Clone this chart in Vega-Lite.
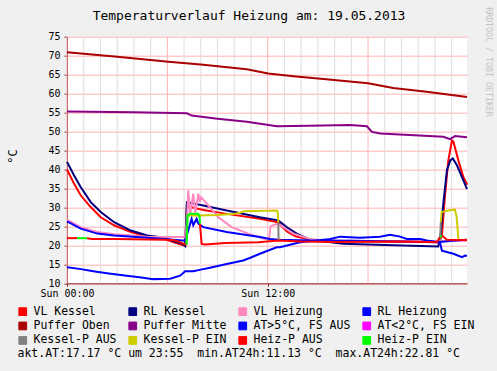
{
"$schema": "https://vega.github.io/schema/vega-lite/v6.json",
"width": 400, "height": 246.6,
"autosize": {"type": "none"},
"padding": {"left": 67, "top": 36.7, "right": 30, "bottom": 88},
"background": "#f0f0f0",
"title": {"text": "Temperaturverlauf Heizung am: 19.05.2013", "font": "DejaVu Sans Mono", "fontSize": 13, "fontWeight": "normal", "color": "black", "anchor": "middle", "frame": "group", "dx": -18, "dy": 21, "offset": 5},
"config": {"view": {"fill": "white", "stroke": null}, "font": "DejaVu Sans Mono", "axis": {"labelFont": "DejaVu Sans Mono", "titleFont": "DejaVu Sans Mono", "labelColor": "black", "titleColor": "black", "titleFontWeight": "normal"}},
"layer": [
{
"data": {"values": [
{"t":"2013-05-19T00:00","major":true},{"t":"2013-05-19T01:00","major":false},{"t":"2013-05-19T02:00","major":false},{"t":"2013-05-19T03:00","major":false},
{"t":"2013-05-19T04:00","major":false},{"t":"2013-05-19T05:00","major":false},{"t":"2013-05-19T06:00","major":true},{"t":"2013-05-19T07:00","major":false},
{"t":"2013-05-19T08:00","major":false},{"t":"2013-05-19T09:00","major":false},{"t":"2013-05-19T10:00","major":false},{"t":"2013-05-19T11:00","major":false},
{"t":"2013-05-19T12:00","major":true},{"t":"2013-05-19T13:00","major":false},{"t":"2013-05-19T14:00","major":false},{"t":"2013-05-19T15:00","major":false},
{"t":"2013-05-19T16:00","major":false},{"t":"2013-05-19T17:00","major":false},{"t":"2013-05-19T18:00","major":true},{"t":"2013-05-19T19:00","major":false},
{"t":"2013-05-19T20:00","major":false},{"t":"2013-05-19T21:00","major":false},{"t":"2013-05-19T22:00","major":false},{"t":"2013-05-19T23:00","major":false}
]},
"mark": {"type": "rule", "strokeWidth": 1},
"encoding": {
"x": {"field": "t", "type": "temporal"},
"color": {"condition": {"test": "datum.major", "value": "#ffb4b4"}, "value": "#dddddd"}
}
},
{
"data": {"values": [
{"s":"VL Kessel","g":1,"t":"2013-05-19T00:00","v":40.0},
{"s":"VL Kessel","g":1,"t":"2013-05-19T00:25","v":36.3},
{"s":"VL Kessel","g":1,"t":"2013-05-19T00:49","v":33.2},
{"s":"VL Kessel","g":1,"t":"2013-05-19T01:25","v":30.1},
{"s":"VL Kessel","g":1,"t":"2013-05-19T02:01","v":27.4},
{"s":"VL Kessel","g":1,"t":"2013-05-19T02:49","v":25.3},
{"s":"VL Kessel","g":1,"t":"2013-05-19T03:49","v":23.5},
{"s":"VL Kessel","g":1,"t":"2013-05-19T04:48","v":22.3},
{"s":"VL Kessel","g":1,"t":"2013-05-19T05:48","v":21.7},
{"s":"VL Kessel","g":1,"t":"2013-05-19T06:24","v":20.8},
{"s":"VL Kessel","g":1,"t":"2013-05-19T06:54","v":20.1},
{"s":"VL Kessel","g":1,"t":"2013-05-19T07:04","v":20.0},
{"s":"VL Kessel","g":1,"t":"2013-05-19T07:10","v":30.4},
{"s":"VL Kessel","g":1,"t":"2013-05-19T07:15","v":30.2},
{"s":"VL Kessel","g":1,"t":"2013-05-19T08:10","v":29.3},
{"s":"VL Kessel","g":1,"t":"2013-05-19T09:33","v":28.3},
{"s":"VL Kessel","g":1,"t":"2013-05-19T11:32","v":27.0},
{"s":"VL Kessel","g":1,"t":"2013-05-19T12:38","v":26.1},
{"s":"VL Kessel","g":1,"t":"2013-05-19T12:50","v":25.0},
{"s":"VL Kessel","g":1,"t":"2013-05-19T13:10","v":23.6},
{"s":"VL Kessel","g":1,"t":"2013-05-19T13:40","v":22.4},
{"s":"VL Kessel","g":1,"t":"2013-05-19T14:30","v":21.5},
{"s":"VL Kessel","g":1,"t":"2013-05-19T16:00","v":21.2},
{"s":"VL Kessel","g":1,"t":"2013-05-19T18:00","v":21.1},
{"s":"VL Kessel","g":1,"t":"2013-05-19T20:00","v":21.0},
{"s":"VL Kessel","g":1,"t":"2013-05-19T22:16","v":20.9},
{"s":"VL Kessel","g":1,"t":"2013-05-19T22:25","v":22.6},
{"s":"VL Kessel","g":1,"t":"2013-05-19T22:36","v":33.0},
{"s":"VL Kessel","g":1,"t":"2013-05-19T22:48","v":42.4},
{"s":"VL Kessel","g":1,"t":"2013-05-19T23:01","v":47.6},
{"s":"VL Kessel","g":1,"t":"2013-05-19T23:06","v":47.4},
{"s":"VL Kessel","g":1,"t":"2013-05-19T23:24","v":42.4},
{"s":"VL Kessel","g":1,"t":"2013-05-19T23:42","v":38.0},
{"s":"VL Kessel","g":1,"t":"2013-05-19T23:54","v":36.3},
{"s":"VL Kessel","g":1,"t":"2013-05-19T23:55","v":36.0},
{"s":"RL Kessel","g":1,"t":"2013-05-19T00:00","v":42.0},
{"s":"RL Kessel","g":1,"t":"2013-05-19T00:25","v":38.5},
{"s":"RL Kessel","g":1,"t":"2013-05-19T00:49","v":35.4},
{"s":"RL Kessel","g":1,"t":"2013-05-19T01:25","v":31.4},
{"s":"RL Kessel","g":1,"t":"2013-05-19T02:01","v":28.8},
{"s":"RL Kessel","g":1,"t":"2013-05-19T02:49","v":26.1},
{"s":"RL Kessel","g":1,"t":"2013-05-19T03:49","v":23.9},
{"s":"RL Kessel","g":1,"t":"2013-05-19T04:48","v":22.6},
{"s":"RL Kessel","g":1,"t":"2013-05-19T05:48","v":22.0},
{"s":"RL Kessel","g":1,"t":"2013-05-19T06:24","v":21.1},
{"s":"RL Kessel","g":1,"t":"2013-05-19T06:54","v":20.4},
{"s":"RL Kessel","g":1,"t":"2013-05-19T07:04","v":19.8},
{"s":"RL Kessel","g":1,"t":"2013-05-19T07:10","v":31.4},
{"s":"RL Kessel","g":1,"t":"2013-05-19T08:09","v":30.5},
{"s":"RL Kessel","g":1,"t":"2013-05-19T09:33","v":29.2},
{"s":"RL Kessel","g":1,"t":"2013-05-19T11:32","v":27.4},
{"s":"RL Kessel","g":1,"t":"2013-05-19T12:38","v":26.6},
{"s":"RL Kessel","g":1,"t":"2013-05-19T13:08","v":24.8},
{"s":"RL Kessel","g":1,"t":"2013-05-19T13:44","v":23.1},
{"s":"RL Kessel","g":1,"t":"2013-05-19T14:32","v":21.5},
{"s":"RL Kessel","g":1,"t":"2013-05-19T16:31","v":20.4},
{"s":"RL Kessel","g":1,"t":"2013-05-19T19:31","v":20.0},
{"s":"RL Kessel","g":1,"t":"2013-05-19T22:12","v":19.7},
{"s":"RL Kessel","g":1,"t":"2013-05-19T22:20","v":22.6},
{"s":"RL Kessel","g":1,"t":"2013-05-19T22:30","v":31.0},
{"s":"RL Kessel","g":1,"t":"2013-05-19T22:43","v":39.8},
{"s":"RL Kessel","g":1,"t":"2013-05-19T22:55","v":42.4},
{"s":"RL Kessel","g":1,"t":"2013-05-19T23:04","v":42.9},
{"s":"RL Kessel","g":1,"t":"2013-05-19T23:19","v":41.1},
{"s":"RL Kessel","g":1,"t":"2013-05-19T23:42","v":37.1},
{"s":"RL Kessel","g":1,"t":"2013-05-19T23:55","v":34.8},
{"s":"VL Heizung","g":1,"t":"2013-05-19T00:00","v":26.8},
{"s":"VL Heizung","g":1,"t":"2013-05-19T00:49","v":24.8},
{"s":"VL Heizung","g":1,"t":"2013-05-19T01:49","v":23.5},
{"s":"VL Heizung","g":1,"t":"2013-05-19T02:49","v":22.9},
{"s":"VL Heizung","g":1,"t":"2013-05-19T04:48","v":22.3},
{"s":"VL Heizung","g":1,"t":"2013-05-19T07:04","v":22.2},
{"s":"VL Heizung","g":1,"t":"2013-05-19T07:10","v":26.0},
{"s":"VL Heizung","g":1,"t":"2013-05-19T07:15","v":34.5},
{"s":"VL Heizung","g":1,"t":"2013-05-19T07:22","v":28.3},
{"s":"VL Heizung","g":1,"t":"2013-05-19T07:33","v":33.6},
{"s":"VL Heizung","g":1,"t":"2013-05-19T07:40","v":28.5},
{"s":"VL Heizung","g":1,"t":"2013-05-19T07:51","v":33.6},
{"s":"VL Heizung","g":1,"t":"2013-05-19T07:56","v":31.5},
{"s":"VL Heizung","g":1,"t":"2013-05-19T08:01","v":32.7},
{"s":"VL Heizung","g":1,"t":"2013-05-19T08:27","v":30.5},
{"s":"VL Heizung","g":1,"t":"2013-05-19T09:03","v":27.4},
{"s":"VL Heizung","g":1,"t":"2013-05-19T09:51","v":24.8},
{"s":"VL Heizung","g":1,"t":"2013-05-19T10:50","v":23.1},
{"s":"VL Heizung","g":1,"t":"2013-05-19T11:50","v":21.7},
{"s":"VL Heizung","g":1,"t":"2013-05-19T12:05","v":21.5},
{"s":"VL Heizung","g":1,"t":"2013-05-19T12:10","v":25.0},
{"s":"VL Heizung","g":1,"t":"2013-05-19T12:30","v":25.6},
{"s":"VL Heizung","g":1,"t":"2013-05-19T12:45","v":25.3},
{"s":"VL Heizung","g":1,"t":"2013-05-19T13:32","v":23.1},
{"s":"VL Heizung","g":1,"t":"2013-05-19T14:32","v":21.7},
{"s":"VL Heizung","g":1,"t":"2013-05-19T15:32","v":21.3},
{"s":"VL Heizung","g":1,"t":"2013-05-19T17:00","v":21.2},
{"s":"VL Heizung","g":1,"t":"2013-05-19T20:00","v":21.0},
{"s":"VL Heizung","g":1,"t":"2013-05-19T23:55","v":21.2},
{"s":"RL Heizung","g":1,"t":"2013-05-19T00:00","v":26.3},
{"s":"RL Heizung","g":1,"t":"2013-05-19T00:49","v":24.4},
{"s":"RL Heizung","g":1,"t":"2013-05-19T01:49","v":23.1},
{"s":"RL Heizung","g":1,"t":"2013-05-19T02:49","v":22.6},
{"s":"RL Heizung","g":1,"t":"2013-05-19T04:48","v":22.0},
{"s":"RL Heizung","g":1,"t":"2013-05-19T06:54","v":21.3},
{"s":"RL Heizung","g":1,"t":"2013-05-19T07:04","v":21.3},
{"s":"RL Heizung","g":1,"t":"2013-05-19T07:15","v":23.9},
{"s":"RL Heizung","g":1,"t":"2013-05-19T07:27","v":27.0},
{"s":"RL Heizung","g":1,"t":"2013-05-19T07:33","v":25.3},
{"s":"RL Heizung","g":1,"t":"2013-05-19T07:45","v":27.0},
{"s":"RL Heizung","g":1,"t":"2013-05-19T07:51","v":25.7},
{"s":"RL Heizung","g":1,"t":"2013-05-19T08:09","v":24.8},
{"s":"RL Heizung","g":1,"t":"2013-05-19T09:33","v":23.5},
{"s":"RL Heizung","g":1,"t":"2013-05-19T11:32","v":22.2},
{"s":"RL Heizung","g":1,"t":"2013-05-19T12:08","v":21.7},
{"s":"RL Heizung","g":1,"t":"2013-05-19T12:38","v":21.5},
{"s":"RL Heizung","g":1,"t":"2013-05-19T14:32","v":21.3},
{"s":"RL Heizung","g":1,"t":"2013-05-19T17:00","v":21.2},
{"s":"RL Heizung","g":1,"t":"2013-05-19T20:00","v":21.0},
{"s":"RL Heizung","g":1,"t":"2013-05-19T22:12","v":20.8},
{"s":"RL Heizung","g":1,"t":"2013-05-19T23:00","v":21.2},
{"s":"RL Heizung","g":1,"t":"2013-05-19T23:55","v":21.5},
{"s":"Puffer Oben","g":1,"t":"2013-05-19T00:00","v":70.9},
{"s":"Puffer Oben","g":1,"t":"2013-05-19T03:00","v":69.7},
{"s":"Puffer Oben","g":1,"t":"2013-05-19T06:04","v":68.4},
{"s":"Puffer Oben","g":1,"t":"2013-05-19T08:00","v":67.7},
{"s":"Puffer Oben","g":1,"t":"2013-05-19T10:45","v":66.4},
{"s":"Puffer Oben","g":1,"t":"2013-05-19T12:02","v":65.3},
{"s":"Puffer Oben","g":1,"t":"2013-05-19T13:32","v":64.6},
{"s":"Puffer Oben","g":1,"t":"2013-05-19T15:30","v":63.8},
{"s":"Puffer Oben","g":1,"t":"2013-05-19T18:00","v":62.7},
{"s":"Puffer Oben","g":1,"t":"2013-05-19T19:30","v":61.5},
{"s":"Puffer Oben","g":1,"t":"2013-05-19T21:30","v":60.5},
{"s":"Puffer Oben","g":1,"t":"2013-05-19T23:55","v":59.1},
{"s":"Puffer Mitte","g":1,"t":"2013-05-19T00:00","v":55.3},
{"s":"Puffer Mitte","g":1,"t":"2013-05-19T04:00","v":55.1},
{"s":"Puffer Mitte","g":1,"t":"2013-05-19T07:10","v":54.8},
{"s":"Puffer Mitte","g":1,"t":"2013-05-19T07:27","v":54.2},
{"s":"Puffer Mitte","g":1,"t":"2013-05-19T09:00","v":53.4},
{"s":"Puffer Mitte","g":1,"t":"2013-05-19T10:45","v":52.6},
{"s":"Puffer Mitte","g":1,"t":"2013-05-19T12:33","v":51.4},
{"s":"Puffer Mitte","g":1,"t":"2013-05-19T14:30","v":51.5},
{"s":"Puffer Mitte","g":1,"t":"2013-05-19T16:56","v":51.7},
{"s":"Puffer Mitte","g":1,"t":"2013-05-19T17:56","v":51.4},
{"s":"Puffer Mitte","g":1,"t":"2013-05-19T18:14","v":49.9},
{"s":"Puffer Mitte","g":1,"t":"2013-05-19T18:44","v":49.5},
{"s":"Puffer Mitte","g":1,"t":"2013-05-19T22:30","v":48.6},
{"s":"Puffer Mitte","g":1,"t":"2013-05-19T22:54","v":48.0},
{"s":"Puffer Mitte","g":1,"t":"2013-05-19T23:12","v":48.8},
{"s":"Puffer Mitte","g":1,"t":"2013-05-19T23:55","v":48.5},
{"s":"AT>5°C, FS AUS","g":1,"t":"2013-05-19T00:00","v":14.2},
{"s":"AT>5°C, FS AUS","g":1,"t":"2013-05-19T00:45","v":13.8},
{"s":"AT>5°C, FS AUS","g":1,"t":"2013-05-19T01:34","v":13.2},
{"s":"AT>5°C, FS AUS","g":1,"t":"2013-05-19T02:30","v":12.6},
{"s":"AT>5°C, FS AUS","g":1,"t":"2013-05-19T03:34","v":12.0},
{"s":"AT>5°C, FS AUS","g":1,"t":"2013-05-19T04:20","v":11.6},
{"s":"AT>5°C, FS AUS","g":1,"t":"2013-05-19T05:10","v":11.1},
{"s":"AT>5°C, FS AUS","g":1,"t":"2013-05-19T06:10","v":11.2},
{"s":"AT>5°C, FS AUS","g":1,"t":"2013-05-19T06:46","v":12.0},
{"s":"AT>5°C, FS AUS","g":1,"t":"2013-05-19T07:04","v":13.2},
{"s":"AT>5°C, FS AUS","g":1,"t":"2013-05-19T07:33","v":13.2},
{"s":"AT>5°C, FS AUS","g":1,"t":"2013-05-19T08:00","v":13.6},
{"s":"AT>5°C, FS AUS","g":1,"t":"2013-05-19T08:33","v":14.1},
{"s":"AT>5°C, FS AUS","g":1,"t":"2013-05-19T09:33","v":15.1},
{"s":"AT>5°C, FS AUS","g":1,"t":"2013-05-19T10:32","v":16.0},
{"s":"AT>5°C, FS AUS","g":1,"t":"2013-05-19T11:00","v":16.8},
{"s":"AT>5°C, FS AUS","g":1,"t":"2013-05-19T11:32","v":17.8},
{"s":"AT>5°C, FS AUS","g":1,"t":"2013-05-19T12:32","v":19.5},
{"s":"AT>5°C, FS AUS","g":1,"t":"2013-05-19T12:44","v":19.5},
{"s":"AT>5°C, FS AUS","g":1,"t":"2013-05-19T13:56","v":20.8},
{"s":"AT>5°C, FS AUS","g":1,"t":"2013-05-19T14:50","v":21.2},
{"s":"AT>5°C, FS AUS","g":1,"t":"2013-05-19T15:44","v":21.7},
{"s":"AT>5°C, FS AUS","g":1,"t":"2013-05-19T16:20","v":22.3},
{"s":"AT>5°C, FS AUS","g":1,"t":"2013-05-19T17:31","v":22.0},
{"s":"AT>5°C, FS AUS","g":1,"t":"2013-05-19T18:43","v":22.3},
{"s":"AT>5°C, FS AUS","g":1,"t":"2013-05-19T19:19","v":22.8},
{"s":"AT>5°C, FS AUS","g":1,"t":"2013-05-19T19:55","v":22.3},
{"s":"AT>5°C, FS AUS","g":1,"t":"2013-05-19T20:19","v":21.7},
{"s":"AT>5°C, FS AUS","g":1,"t":"2013-05-19T21:07","v":21.7},
{"s":"AT>5°C, FS AUS","g":1,"t":"2013-05-19T21:31","v":21.3},
{"s":"AT>5°C, FS AUS","g":1,"t":"2013-05-19T22:18","v":20.8},
{"s":"AT>5°C, FS AUS","g":1,"t":"2013-05-19T22:25","v":18.6},
{"s":"AT>5°C, FS AUS","g":1,"t":"2013-05-19T23:06","v":17.8},
{"s":"AT>5°C, FS AUS","g":1,"t":"2013-05-19T23:37","v":16.9},
{"s":"AT>5°C, FS AUS","g":1,"t":"2013-05-19T23:48","v":17.3},
{"s":"AT>5°C, FS AUS","g":1,"t":"2013-05-19T23:55","v":17.2},
{"s":"Kessel-P AUS","g":1,"t":"2013-05-19T07:08","v":20.0},
{"s":"Kessel-P AUS","g":1,"t":"2013-05-19T07:09","v":27.9},
{"s":"Kessel-P AUS","g":2,"t":"2013-05-19T12:38","v":26.1},
{"s":"Kessel-P AUS","g":2,"t":"2013-05-19T12:39","v":21.7},
{"s":"Kessel-P AUS","g":2,"t":"2013-05-19T12:45","v":21.5},
{"s":"Kessel-P AUS","g":3,"t":"2013-05-19T22:19","v":21.2},
{"s":"Kessel-P AUS","g":3,"t":"2013-05-19T22:21","v":26.1},
{"s":"Kessel-P AUS","g":4,"t":"2013-05-19T23:24","v":21.7},
{"s":"Kessel-P AUS","g":4,"t":"2013-05-19T23:27","v":21.4},
{"s":"Kessel-P EIN","g":1,"t":"2013-05-19T07:09","v":27.9},
{"s":"Kessel-P EIN","g":1,"t":"2013-05-19T07:57","v":27.9},
{"s":"Kessel-P EIN","g":1,"t":"2013-05-19T09:00","v":28.0},
{"s":"Kessel-P EIN","g":1,"t":"2013-05-19T10:00","v":28.3},
{"s":"Kessel-P EIN","g":1,"t":"2013-05-19T10:20","v":28.6},
{"s":"Kessel-P EIN","g":1,"t":"2013-05-19T10:35","v":29.0},
{"s":"Kessel-P EIN","g":1,"t":"2013-05-19T12:33","v":29.2},
{"s":"Kessel-P EIN","g":1,"t":"2013-05-19T12:36","v":28.8},
{"s":"Kessel-P EIN","g":1,"t":"2013-05-19T12:38","v":26.1},
{"s":"Kessel-P EIN","g":2,"t":"2013-05-19T22:21","v":26.1},
{"s":"Kessel-P EIN","g":2,"t":"2013-05-19T22:24","v":28.8},
{"s":"Kessel-P EIN","g":2,"t":"2013-05-19T22:48","v":29.2},
{"s":"Kessel-P EIN","g":2,"t":"2013-05-19T23:12","v":29.4},
{"s":"Kessel-P EIN","g":2,"t":"2013-05-19T23:18","v":27.4},
{"s":"Kessel-P EIN","g":2,"t":"2013-05-19T23:24","v":21.7},
{"s":"Heiz-P AUS","g":1,"t":"2013-05-19T00:00","v":21.9},
{"s":"Heiz-P AUS","g":1,"t":"2013-05-19T00:36","v":21.9},
{"s":"Heiz-P AUS","g":2,"t":"2013-05-19T01:12","v":21.9},
{"s":"Heiz-P AUS","g":2,"t":"2013-05-19T01:30","v":21.7},
{"s":"Heiz-P AUS","g":2,"t":"2013-05-19T03:00","v":21.7},
{"s":"Heiz-P AUS","g":2,"t":"2013-05-19T05:48","v":21.5},
{"s":"Heiz-P AUS","g":2,"t":"2013-05-19T06:20","v":21.4},
{"s":"Heiz-P AUS","g":2,"t":"2013-05-19T06:40","v":21.0},
{"s":"Heiz-P AUS","g":2,"t":"2013-05-19T07:04","v":20.2},
{"s":"Heiz-P AUS","g":2,"t":"2013-05-19T07:09","v":20.2},
{"s":"Heiz-P AUS","g":3,"t":"2013-05-19T07:57","v":25.7},
{"s":"Heiz-P AUS","g":3,"t":"2013-05-19T08:03","v":20.4},
{"s":"Heiz-P AUS","g":3,"t":"2013-05-19T08:15","v":20.2},
{"s":"Heiz-P AUS","g":3,"t":"2013-05-19T09:27","v":20.6},
{"s":"Heiz-P AUS","g":3,"t":"2013-05-19T11:26","v":20.8},
{"s":"Heiz-P AUS","g":3,"t":"2013-05-19T12:38","v":21.3},
{"s":"Heiz-P AUS","g":3,"t":"2013-05-19T14:00","v":21.0},
{"s":"Heiz-P AUS","g":3,"t":"2013-05-19T16:00","v":20.9},
{"s":"Heiz-P AUS","g":3,"t":"2013-05-19T20:00","v":21.0},
{"s":"Heiz-P AUS","g":3,"t":"2013-05-19T22:07","v":20.8},
{"s":"Heiz-P AUS","g":3,"t":"2013-05-19T22:18","v":22.2},
{"s":"Heiz-P AUS","g":4,"t":"2013-05-19T22:25","v":22.6},
{"s":"Heiz-P AUS","g":4,"t":"2013-05-19T22:43","v":21.5},
{"s":"Heiz-P AUS","g":4,"t":"2013-05-19T23:55","v":21.4},
{"s":"Heiz-P EIN","g":1,"t":"2013-05-19T00:36","v":21.9},
{"s":"Heiz-P EIN","g":1,"t":"2013-05-19T01:12","v":21.9},
{"s":"Heiz-P EIN","g":2,"t":"2013-05-19T07:09","v":20.2},
{"s":"Heiz-P EIN","g":2,"t":"2013-05-19T07:13","v":27.9},
{"s":"Heiz-P EIN","g":2,"t":"2013-05-19T07:22","v":28.3},
{"s":"Heiz-P EIN","g":2,"t":"2013-05-19T07:51","v":28.3},
{"s":"Heiz-P EIN","g":2,"t":"2013-05-19T07:56","v":27.4},
{"s":"Heiz-P EIN","g":2,"t":"2013-05-19T07:57","v":25.7},
{"s":"Heiz-P EIN","g":3,"t":"2013-05-19T22:18","v":22.2},
{"s":"Heiz-P EIN","g":3,"t":"2013-05-19T22:25","v":22.6}
]},
"mark": {"type": "line", "strokeWidth": 2, "interpolate": "linear"},
"encoding": {
"x": {"field": "t", "type": "temporal",
 "scale": {"domain": [{"year": 2013, "month": 5, "date": 19, "hours": 0, "minutes": 0}, {"year": 2013, "month": 5, "date": 19, "hours": 23, "minutes": 55}], "nice": false},
 "axis": {"title": "akt.AT:17.17 °C um 23:55\u00a0\u00a0min.AT24h:11.13 °C\u00a0\u00a0max.AT24h:22.81 °C", "titleX": -50, "titleY": 70.5, "titleAlign": "left", "titleAnchor": "start", "titleBaseline": "middle", "titleFontSize": 11.5, "titleFontWeight": "normal", "titleColor": "black",
  "values": [{"year": 2013, "month": 5, "date": 19, "hours": 0}, {"year": 2013, "month": 5, "date": 19, "hours": 12}],
  "format": "%a %H:%M",
  "labelOverlap": false, "labelFlush": false, "labelFontSize": 10, "labelPadding": 2, "labelColor": "black",
  "tickSize": 3, "tickColor": "#8b2a2a", "grid": false,
  "domainColor": "#8b2a2a"}},
"y": {"field": "v", "type": "quantitative",
 "scale": {"domain": [10, 75], "nice": false, "zero": false},
 "axis": {"values": [10, 15, 20, 25, 30, 35, 40, 45, 50, 55, 60, 65, 70, 75], "labelOverlap": false, "title": "°C", "titleX": -55, "titleY": 119.3, "titleAngle": -90, "titleAlign": "center", "titleBaseline": "middle", "titleFontSize": 12, "titleFontWeight": "normal", "labelFontSize": 10, "labelPadding": 4, "tickSize": 3, "tickColor": "#8b2a2a", "grid": true, "gridColor": "#ffb4b4", "gridOpacity": 1, "domainColor": "#8b2a2a"}},
"color": {"field": "s", "type": "nominal",
 "scale": {"domain": ["VL Kessel", "RL Kessel", "VL Heizung", "RL Heizung", "Puffer Oben", "Puffer Mitte", "AT>5°C, FS AUS", "AT<2°C, FS EIN", "Kessel-P AUS", "Kessel-P EIN", "Heiz-P AUS", "Heiz-P EIN"],
  "range": ["#ff0000", "#000080", "#ff88c0", "#0000ff", "#aa0000", "#880088", "#0000ff", "#ff00ff", "#808080", "#cccc00", "#ff0000", "#00ff00"]},
 "legend": {"orient": "none", "direction": "horizontal", "legendX": -50, "legendY": 269, "columns": 4, "columnPadding": 9, "rowPadding": 1.5, "title": null, "symbolType": "square", "symbolSize": 60, "symbolStrokeWidth": 1, "labelFont": "DejaVu Sans Mono", "labelFontSize": 11.5, "labelColor": "black", "labelOffset": 5, "padding": 0,
  "encode": {"symbols": {"update": {"fill": {"scale": "color", "field": "value"}, "stroke": {"value": "black"}, "strokeWidth": {"value": 1}, "opacity": {"value": 1}}}}}},
"detail": {"field": "g", "type": "nominal"}
}
},
{
"data": {"values": [{"t": "2013-05-20T01:11", "txt": "RRDTOOL / TOBI OETIKER"}]},
"mark": {"type": "text", "angle": 90, "align": "center", "baseline": "middle", "dx": -98, "font": "DejaVu Sans Mono", "fontSize": 8.3, "color": "#c4c4c4"},
"encoding": {
"x": {"field": "t", "type": "temporal"},
"text": {"field": "txt"}
}
}
]
}
